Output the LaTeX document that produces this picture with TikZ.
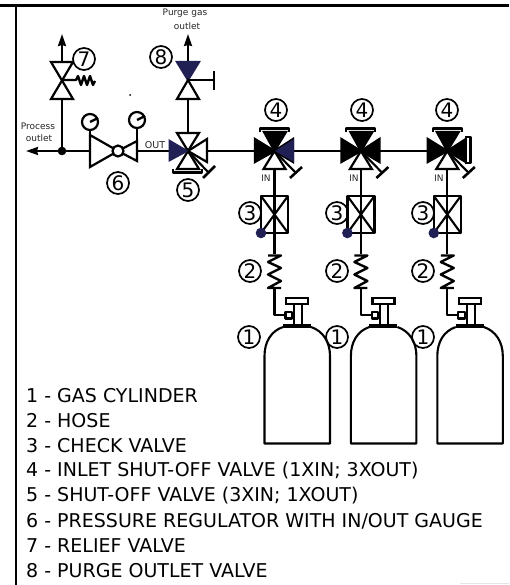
\documentclass[tikz,border=0pt]{standalone}
\usepackage{fontspec}
\setmainfont{DejaVu Sans}
\usetikzlibrary{arrows.meta}
\definecolor{navy}{RGB}{32,32,84}
\tikzset{
  pipe/.style={line width=2.1pt},
  tri/.style={line width=2.2pt,fill=white,line join=miter},
  numcirc/.style={circle,draw,line width=1.7pt,minimum size=22pt,inner sep=0pt,font=\fontsize{20}{20}\selectfont},
  small/.style={inner sep=0pt,text=black!85,font=\fontsize{9}{9}\selectfont},
  legend/.style={anchor=west,inner sep=0pt,font=\fontsize{19}{19}\selectfont},
  outarrow/.style={-{Stealth[length=12pt,width=8pt,inset=1pt]}}
}
\begin{document}
\begin{tikzpicture}[line cap=butt,line join=round,x=1pt,y=-1pt]
\useasboundingbox (0,0) rectangle (509,585);
% frame
\draw [line width=2.4pt](0,5.5)-- (509,5.5);
\draw [line width=2.4pt](16,5.5)-- (16,585);
\draw [black!10](460,583.5)-- (509,583.5);
% process line
\draw [pipe,outarrow](90,151)-- (26,151);
\draw [pipe](137,151)-- (169,151);
\draw [pipe](207,151)-- (448,151);
\draw [pipe](62,151)-- (62,99);
\draw [pipe,outarrow](62,62)-- (62,34);
\fill (62,151) circle (4.3);
% relief valve
\draw [tri](51,62)-- (73,62)-- (51,99)-- (73,99)-- cycle;
\draw [line width=2.4pt](62,80)-- (76,80)-- (78,76)-- (81,85)-- (84,76)-- (87,85)-- (90,76)-- (93,85)-- (95,81);
% regulator
\draw [tri](90,135)-- (118,151)-- (90,167)-- cycle;
\draw [tri](137,141)-- (118,151)-- (137,161)-- cycle;
\draw [tri](118,151) circle (5.5);
\draw [pipe](90,130)-- (90,135);
\draw [pipe](137,128)-- (137,141);
\draw [tri](90,122) circle (8);
\draw [tri](137,120) circle (8);
\draw [line width=2.4pt](90,122)-- (98,118);
\draw [line width=2.4pt](137,120)-- (145,116);
\fill (130,95) circle (1);
% outlet valve
\draw [pipe](188,62)-- (188,133);
\draw [pipe,outarrow](188,62)-- (188,34);
\draw [tri,fill=navy,draw=navy](177,62)-- (199,62)-- (188,80)-- cycle;
\draw [tri](177,99)-- (199,99)-- (188,80)-- cycle;
\draw [pipe](188,80)-- (214,80);
\draw [line width=2.6pt](214,71)-- (214,90);
\draw [tri](177,133)-- (199,133)-- (188,151)-- cycle;
\draw [tri](177,169)-- (199,169)-- (188,151)-- cycle;
\draw [tri](207,139)-- (207,162)-- (188,151)-- cycle;
\fill [navy](168.5,139)-- (168.5,162)-- (189,151)-- cycle;
\draw [pipe](173,169)-- (173,172.5)-- (202,172.5)-- (202,169);
\draw [pipe](188,151)-- (208,172);
\draw [line width=2.6pt](203,178)-- (215,166);
% inlet columns
\foreach \x [count=\i] in {0,86.4,172.8}{
  \begin{scope}[xshift=\x pt]
  \draw [pipe](274.5,169)-- (274.5,254);
  \draw [pipe](274.5,288)-- (274.5,315)-- (286,315);
  \draw [tri,fill=black](264,132)-- (286,132)-- (274.5,151)-- cycle;
  \draw [tri](263.5,169)-- (285.5,169)-- (274.5,151)-- cycle;
  \draw [tri,fill=black](255,139)-- (255,162)-- (274.5,151)-- cycle;
  \draw [tri,fill=black](293,139)-- (293,162)-- (274.5,151)-- cycle;
  \draw [pipe](260,132)-- (260,128.5)-- (289,128.5)-- (289,132);
  \draw [pipe](274.5,151)-- (295,172);
  \draw [line width=2.6pt](290,178)-- (302,167);
  % check valve
  \draw [line width=2.2pt](261,196) rectangle (288,233);
  \draw [pipe](261,196)-- (288,233);
  \draw [pipe](288,196)-- (261,233);
  % hose
  \draw [line width=2.4pt](268,255.5)-- (281,255.5)-- (268,262)-- (281,268)-- (268,274.5)-- (281,281)-- (268,288)-- (281,288);
  % cylinder
  \draw [pipe](285.5,312)-- (292,312)-- (292,318.5)-- (285.5,318.5)-- cycle;
  \draw [pipe](294,304)-- (294,325);
  \draw [pipe](302,304)-- (302,325);
  \draw [tri](286,298)-- (308,298)-- (308,304)-- (286,304)-- cycle;
  \draw [line width=3.8pt](283,326)-- (311,326);
  \draw [pipe](283,327) .. controls (271,331) and (264.5,342) .. (264.5,356)-- (264.5,443.5)-- (330,443.5)-- (330,356) .. controls (330,342) and (323,331) .. (311,327);
  \end{scope}
}
\fill [navy](275,151)-- (294,139)-- (294,162)-- cycle;
\draw [pipe](465,137)-- (470.5,137)-- (470.5,163)-- (465,163);
% item numbers
\node [numcirc,fill=white] (seven) at (84,59) {7};
\node [numcirc] (eight) at (161,57) {8};
\node [numcirc] (six) at (118,183) {6};
\node [numcirc] (five) at (188,190) {5};
\foreach \xa/\xb/\xc/\name in {276/250/249/a,362/337/337/b,447/423/423/c}{
  \node [numcirc] (four\name) at (\xa,110) {4};
  \node [numcirc] (three\name) at (\xb,213) {3};
  \node [numcirc] (two\name) at (\xb,271) {2};
  \node [numcirc] (one\name) at (\xc,337) {1};
}
\fill [navy](261,233) circle (5.3);
\fill [navy](347.4,233) circle (5.3);
\fill [navy](433.8,233) circle (5.3);
% small texts
\node [small] (purgea) at (185,13) {Purge gas};
\node [small] (purgeb) at (187,26) {outlet};
\node [small] (processa) at (38,126) {Process};
\node [small] (processb) at (39,138) {outlet};
\node [small,font=\fontsize{9.5}{10}\selectfont] (outtxt) at (155,145) {OUT};
\node [small] (ina) at (266,178) {IN};
\node [small] (inb) at (354,178) {IN};
\node [small] (inc) at (439,178) {IN};
% legend
\node [legend] (la) at (26,396) {1 - GAS CYLINDER};
\node [legend] (lb) at (26,421) {2 - HOSE};
\node [legend] (lc) at (26,446) {3 - CHECK VALVE};
\node [legend] (ld) at (26,471) {4 - INLET SHUT-OFF VALVE (1XIN; 3XOUT)};
\node [legend] (le) at (26,496) {5 - SHUT-OFF VALVE (3XIN; 1XOUT)};
\node [legend] (lf) at (26,521) {6 - PRESSURE REGULATOR WITH IN/OUT GAUGE};
\node [legend] (lg) at (26,546) {7 - RELIEF VALVE};
\node [legend] (lh) at (26,571) {8 - PURGE OUTLET VALVE};
\end{tikzpicture}
\end{document}
